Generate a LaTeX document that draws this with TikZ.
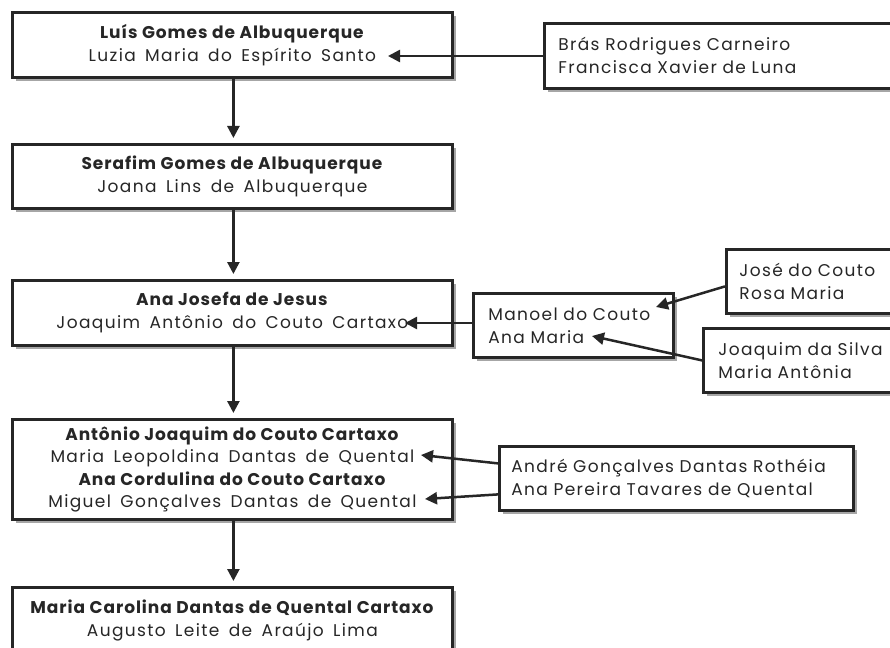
\documentclass[tikz,border=0pt]{standalone}
\usepackage{fontspec}
\setmainfont{Poppins}[LetterSpace=8, WordSpace=1.6, BoldFeatures={LetterSpace=5.5, WordSpace=1}]
\usetikzlibrary{arrows.meta,shadows,calc}
\begin{document}
\begin{tikzpicture}[x=1pt,y=-1pt,
  box/.style={draw=black!85, line width=2.8pt, fill=white, rectangle, inner sep=0pt,
    anchor=north west, drop shadow={shadow xshift=3.5pt,shadow yshift=-3.5pt,fill=black!35,opacity=1},
    font=\fontsize{17}{23}\selectfont, text=black!85},
  lbox/.style={box, minimum width=440pt, align=center},
  rbox/.style={box, align=left, inner ysep=0pt},
  conn/.style={draw=black!85, line width=2.5pt, -{Triangle[length=12pt,width=12pt]}},
  down/.style={conn, shorten >=5pt}]
\useasboundingbox (0,0) rectangle (890,647);
\clip (0,0) rectangle (890,647);
% main line
\node[lbox, minimum height=65pt] (b1) at (11,11) {\textbf{Luís Gomes de Albuquerque}\\Luzia Maria do Espírito Santo};
\node[lbox, minimum height=64pt] (b2) at (11,143) {\textbf{Serafim Gomes de Albuquerque}\\Joana Lins de Albuquerque};
\node[lbox, minimum height=65pt] (b3) at (11,279) {\textbf{Ana Josefa de Jesus}\\Joaquim Antônio do Couto Cartaxo};
\node[lbox, minimum height=100pt, font=\fontsize{17}{22.5}\selectfont] (b4) at (11,418) {\textbf{Antônio Joaquim do Couto Cartaxo}\\Maria Leopoldina Dantas de Quental\\\textbf{Ana Cordulina do Couto Cartaxo}\\Miguel Gonçalves Dantas de Quental};
\node[lbox, minimum height=70pt, text depth=8pt] (b5) at (11,586) {\textbf{Maria Carolina Dantas de Quental Cartaxo}\\Augusto Leite de Araújo Lima};
% side boxes
\node[rbox, minimum height=65pt, inner xsep=14pt, text width=334pt] (bras) at (543,22) {Brás Rodrigues Carneiro\\Francisca Xavier de Luna};
\node[rbox, minimum height=64pt, inner xsep=15pt, text width=170pt] (man) at (472,292) {Manoel do Couto\\Ana Maria};
\node[rbox, minimum height=64pt, inner xsep=13pt, text width=154pt] (jose) at (725,248) {José do Couto\\Rosa Maria};
\node[rbox, minimum height=64pt, inner xsep=15pt, text width=173pt] (jsil) at (702,327) {Joaquim da Silva\\Maria Antônia};
\node[rbox, minimum height=64pt, inner xsep=12pt, text width=330pt] (andre) at (498,445) {André Gonçalves Dantas Rothéia\\Ana Pereira Tavares de Quental};
% arrow tips
\coordinate (t1) at (388,56);
\coordinate (t3) at (405,323);
\coordinate (tm1) at (656,307);
\coordinate (tm2) at (592,336);
\coordinate (t4a) at (421,455);
\coordinate (t4b) at (425,499);
% connectors
\draw[down] ($(b1.south)+(1,0)$) -- ($(b2.north)+(1,0)$);
\draw[down] ($(b2.south)+(1,0)$) -- ($(b3.north)+(1,0)$);
\draw[down] ($(b3.south)+(1,0)$) -- ($(b4.north)+(1,0)$);
\draw[down] ($(b4.south)+(1,0)$) -- ($(b5.north)+(1,0)$);
\draw[conn] (bras.west |- t1) -- (t1);
\draw[conn] (man.west |- t3) -- (t3);
\draw[conn] ($(jose.west)+(0,5)$) -- (tm1);
\draw[conn] (jsil.west) -- (tm2);
\draw[conn] ($(andre.west)+(0,-15)$) -- (t4a);
\draw[conn] ($(andre.west)+(0,16)$) -- (t4b);
\end{tikzpicture}
\end{document}
